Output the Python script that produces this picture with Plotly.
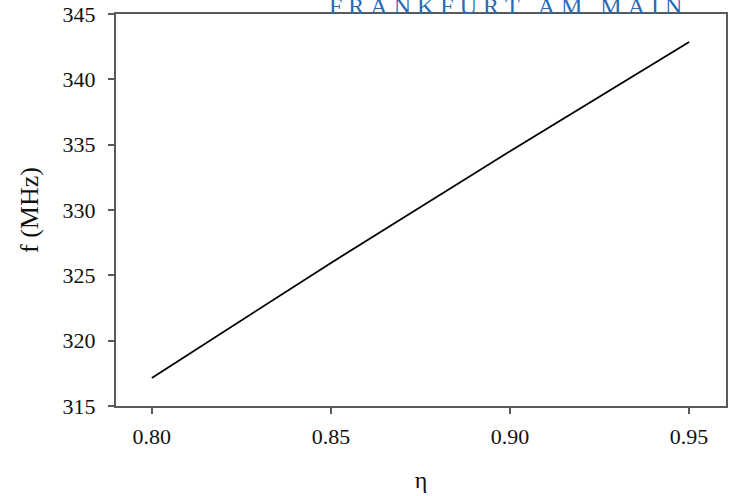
import plotly.graph_objects as go

eta = [0.80, 0.85, 0.90, 0.95]
freq = [317.15, 325.95, 334.5, 342.85]

x_ticks = [0.80, 0.85, 0.90, 0.95]
x_ticklabels = ["0.80", "0.85", "0.90", "0.95"]
y_ticks = [315, 320, 325, 330, 335, 340, 345]

header = "FRANKFURT AM MAIN"

axis_color = "#5a5a5a"
font_family = "Liberation Serif"

fig = go.Figure()
fig.add_trace(go.Scatter(x=eta, y=freq, mode="lines",
                         line=dict(color="black", width=1.8), showlegend=False))

spaced = "\u00a0".join("\u00a0" if c == " " else c for c in header)

fig.update_layout(
    width=735, height=496,
    margin=dict(l=116, r=9, t=14, b=90),
    paper_bgcolor="white", plot_bgcolor="white",
    font=dict(family=font_family, size=22, color="#111"),
    xaxis=dict(range=[0.79, 0.9603], tickvals=x_ticks, ticktext=x_ticklabels,
               showgrid=False, zeroline=False, showline=True, linecolor=axis_color,
               linewidth=2, mirror=True, ticks="outside", ticklen=6, tickcolor=axis_color,
               tickwidth=1.5, ticklabelstandoff=4, automargin=False,
               title=dict(text="η", font=dict(size=24), standoff=23)),
    yaxis=dict(range=[315, 345], tickvals=y_ticks,
               showgrid=False, zeroline=False, showline=True, linecolor=axis_color,
               linewidth=2, mirror=True, ticks="outside", ticklen=6, tickcolor=axis_color,
               tickwidth=1.5, ticklabelstandoff=8, automargin=False,
               title=dict(text="f (MHz)", font=dict(size=26), standoff=16)),
    annotations=[dict(text=spaced, xref="paper", yref="paper", x=(327 - 116) / 610,
                      y=1 - 7 / 392, xanchor="left", yanchor="bottom", showarrow=False,
                      font=dict(family=font_family, size=24, color="#2a6ab0"))],
)

fig.write_html("out.html")
